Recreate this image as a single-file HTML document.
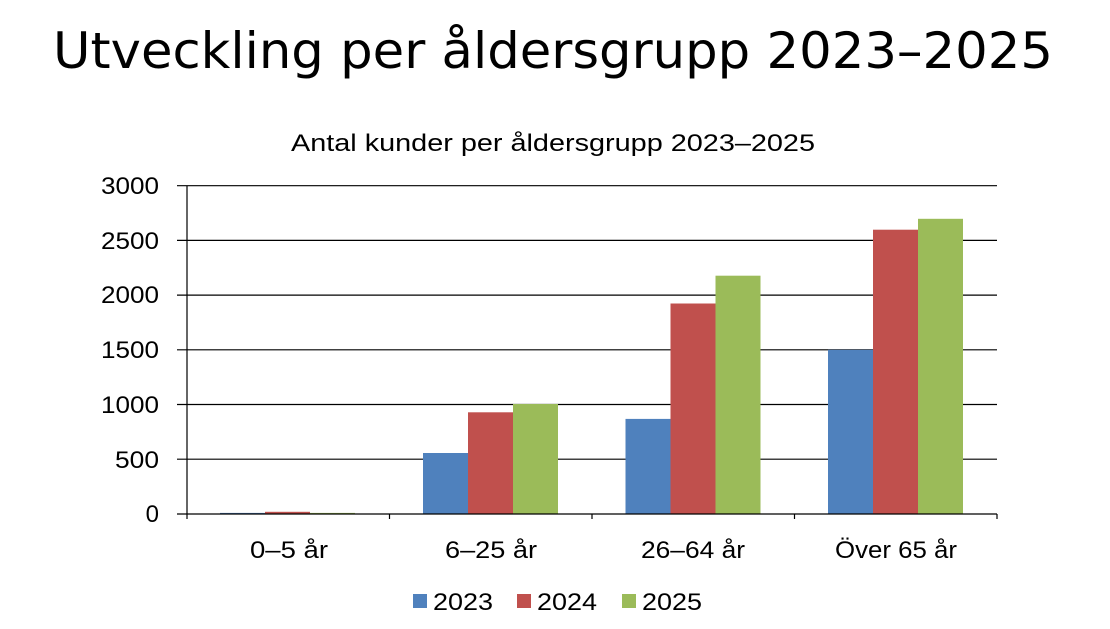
<!DOCTYPE html>
<html><head><meta charset="utf-8"><style>
body{margin:0;background:#fff;width:1110px;height:624px;overflow:hidden;font-family:"Liberation Sans",sans-serif}
</style></head><body>
<svg width="1110" height="624" xmlns="http://www.w3.org/2000/svg" font-family="Liberation Sans, sans-serif">
<text x="553" y="68" font-size="50" text-anchor="middle" fill="#000" font-family="DejaVu Sans, sans-serif" textLength="1000" lengthAdjust="spacingAndGlyphs">Utveckling per åldersgrupp 2023–2025</text>
<text x="553" y="151" font-size="24" text-anchor="middle" fill="#000" textLength="524" lengthAdjust="spacingAndGlyphs">Antal kunder per åldersgrupp 2023–2025</text>
<g stroke="#000" stroke-width="1.2">
<line x1="177" y1="185.7" x2="997" y2="185.7"/>
<line x1="177" y1="240.4" x2="997" y2="240.4"/>
<line x1="177" y1="295.1" x2="997" y2="295.1"/>
<line x1="177" y1="349.8" x2="997" y2="349.8"/>
<line x1="177" y1="404.5" x2="997" y2="404.5"/>
<line x1="177" y1="459.2" x2="997" y2="459.2"/>
</g>
<g font-size="24" text-anchor="end" fill="#000">
<text x="159" y="194" textLength="58" lengthAdjust="spacingAndGlyphs">3000</text><text x="159" y="249" textLength="58" lengthAdjust="spacingAndGlyphs">2500</text><text x="159" y="303" textLength="58" lengthAdjust="spacingAndGlyphs">2000</text>
<text x="159" y="358" textLength="58" lengthAdjust="spacingAndGlyphs">1500</text><text x="159" y="413" textLength="58" lengthAdjust="spacingAndGlyphs">1000</text><text x="159" y="468" textLength="44" lengthAdjust="spacingAndGlyphs">500</text><text x="159" y="522">0</text>
</g>
<g>
<rect x="220" y="512.9" width="45" height="1.1" fill="#4f81bd"/>
<rect x="265" y="511.8" width="45" height="2.2" fill="#c0504d"/>
<rect x="310" y="512.9" width="45" height="1.1" fill="#9bbb59"/>
<rect x="423" y="453" width="45" height="61" fill="#4f81bd"/>
<rect x="468" y="412.3" width="45" height="101.7" fill="#c0504d"/>
<rect x="513" y="404" width="45" height="110" fill="#9bbb59"/>
<rect x="625.5" y="418.9" width="45" height="95.1" fill="#4f81bd"/>
<rect x="670.5" y="303.5" width="45" height="210.5" fill="#c0504d"/>
<rect x="715.5" y="275.7" width="45" height="238.3" fill="#9bbb59"/>
<rect x="828" y="349.8" width="45" height="164.2" fill="#4f81bd"/>
<rect x="873" y="229.7" width="45" height="284.3" fill="#c0504d"/>
<rect x="918" y="218.8" width="45" height="295.2" fill="#9bbb59"/>
</g>
<g stroke="#000" stroke-width="1.2">
<line x1="177" y1="514" x2="997" y2="514"/>
<line x1="187" y1="185.7" x2="187" y2="519"/>
<line x1="389.5" y1="514" x2="389.5" y2="519"/>
<line x1="592" y1="514" x2="592" y2="519"/>
<line x1="794.5" y1="514" x2="794.5" y2="519"/>
<line x1="997" y1="514" x2="997" y2="519"/>
</g>
<g font-size="24" text-anchor="middle" fill="#000">
<text x="289" y="558" textLength="78" lengthAdjust="spacingAndGlyphs">0–5 år</text><text x="491" y="558" textLength="92" lengthAdjust="spacingAndGlyphs">6–25 år</text>
<text x="693" y="558" textLength="104" lengthAdjust="spacingAndGlyphs">26–64 år</text><text x="896" y="558" textLength="122" lengthAdjust="spacingAndGlyphs">Över 65 år</text>
</g>
<g font-size="24" fill="#000">
<rect x="413" y="594" width="14" height="14" fill="#4f81bd"/><text x="433" y="610" textLength="60" lengthAdjust="spacingAndGlyphs">2023</text>
<rect x="517" y="594" width="14" height="14" fill="#c0504d"/><text x="537" y="610" textLength="60" lengthAdjust="spacingAndGlyphs">2024</text>
<rect x="622" y="594" width="14" height="14" fill="#9bbb59"/><text x="642" y="610" textLength="60" lengthAdjust="spacingAndGlyphs">2025</text>
</g>
</svg>
</body></html>
